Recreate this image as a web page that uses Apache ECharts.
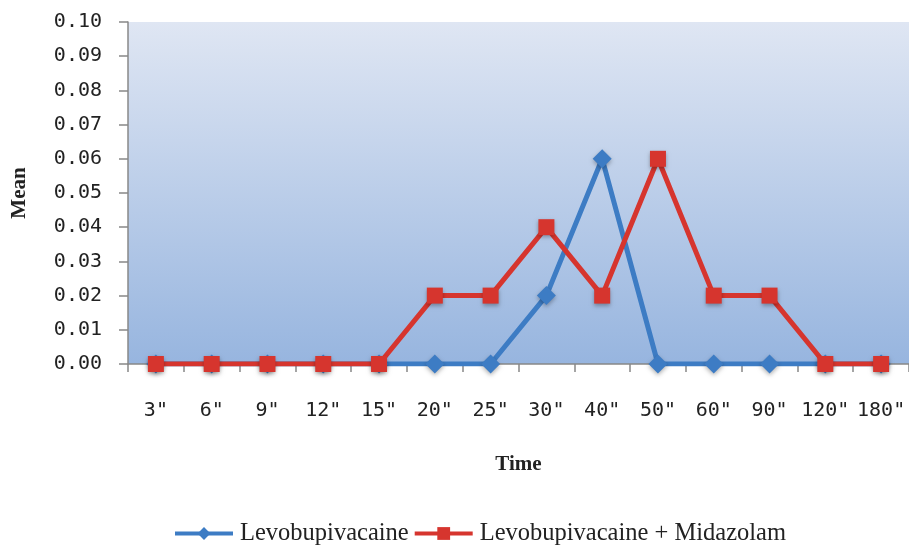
<!DOCTYPE html>
<html>
<head>
<meta charset="utf-8">
<script src="https://cdn.jsdelivr.net/npm/echarts@6/dist/echarts.min.js"></script>
<style>
  html, body { margin: 0; padding: 0; background: #fff; }
  #chart { width: 909px; height: 546px; }
</style>
</head>
<body>
<div id="chart"></div>
<script>
// time points
const times = ['3"', '6"', '9"', '12"', '15"', '20"', '25"', '30"', '40"', '50"', '60"', '90"', '120"', '180"'];
// means
const levo = [0, 0, 0, 0, 0, 0, 0, 0.02, 0.06, 0, 0, 0, 0, 0];
const levoMida = [0, 0, 0, 0, 0, 0.02, 0.02, 0.04, 0.02, 0.06, 0.02, 0.02, 0, 0];
const yTicks = [0, 0.01, 0.02, 0.03, 0.04, 0.05, 0.06, 0.07, 0.08, 0.09, 0.10];

const monoFont = '"DejaVu Sans Mono", monospace';
const serifFont = '"Liberation Serif", "DejaVu Serif", serif';

const chart = echarts.init(document.getElementById('chart'));
chart.setOption({
  animation: false,
  backgroundColor: '#fff',
  grid: {
    left: 128,
    top: 22,
    width: 787,
    height: 342,
    show: true,
    borderWidth: 0,
    backgroundColor: new echarts.graphic.LinearGradient(0, 0, 0, 1, [
      { offset: 0, color: '#dfe6f3' },
      { offset: 1, color: '#97b5df' }
    ])
  },
  legend: {
    top: 516,
    left: 168,
    itemWidth: 58,
    itemHeight: 16,
    itemGap: 4,
    lineStyle: { width: 4 },
    textStyle: { fontFamily: serifFont, fontSize: 24.5, color: '#222', padding: [0, 0, 0, 2] },
    data: ['Levobupivacaine', 'Levobupivacaine + Midazolam']
  },
  xAxis: {
    type: 'category',
    data: times,
    boundaryGap: true,
    name: 'Time',
    nameLocation: 'middle',
    nameGap: 90,
    nameTextStyle: { fontFamily: serifFont, fontSize: 21, color: '#222', fontWeight: 'bold' },
    axisLine: { lineStyle: { color: '#888', width: 1.5 } },
    axisTick: { show: true, length: 8, alignWithLabel: false, lineStyle: { color: '#888', width: 1.5 } },
    axisLabel: { fontFamily: monoFont, fontSize: 20, color: '#222', margin: 37, interval: 0 },
    splitLine: { show: false }
  },
  yAxis: {
    type: 'value',
    min: 0,
    max: 0.1,
    interval: 0.01,
    name: 'Mean',
    nameLocation: 'middle',
    nameGap: 98,
    nameRotate: 90,
    nameTextStyle: { fontFamily: serifFont, fontSize: 21, color: '#222', fontWeight: 'bold' },
    axisLine: { show: true, lineStyle: { color: '#888', width: 1.5 } },
    axisTick: { show: true, length: 9, lineStyle: { color: '#888', width: 1.5 } },
    axisLabel: {
      fontFamily: monoFont, fontSize: 20, color: '#222', margin: 26,
      formatter: v => {
        const t = yTicks.find(y => Math.abs(y - v) < 1e-9);
        return (t !== undefined ? t : v).toFixed(2);
      }
    },
    splitLine: { show: false }
  },
  series: [
    {
      name: 'Levobupivacaine',
      type: 'line',
      data: levo,
      symbol: 'diamond',
      symbolSize: 19,
      lineStyle: { color: '#3d7cc4', width: 5 },
      itemStyle: { color: '#3d7cc4', shadowBlur: 4, shadowColor: 'rgba(0,0,0,0.3)', shadowOffsetY: 2 },
      z: 2
    },
    {
      name: 'Levobupivacaine + Midazolam',
      type: 'line',
      data: levoMida,
      symbol: 'rect',
      symbolSize: 16,
      lineStyle: { color: '#d6352e', width: 5 },
      itemStyle: { color: '#d6352e', shadowBlur: 4, shadowColor: 'rgba(0,0,0,0.3)', shadowOffsetY: 2 },
      z: 3
    }
  ]
});
</script>
</body>
</html>
